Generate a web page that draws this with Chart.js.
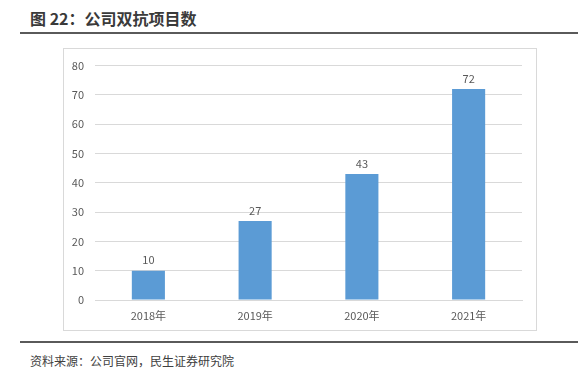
<!DOCTYPE html>
<html><head><meta charset="utf-8">
<script src="https://cdn.jsdelivr.net/npm/chart.js@4"></script>
<style>
html,body{margin:0;padding:0;background:#fff;width:578px;height:374px;overflow:hidden;font-family:"Noto Sans CJK SC","Noto Sans",sans-serif;}
#title{position:absolute;left:30px;top:6px;font-size:16px;font-weight:bold;color:#3a3a3a;white-space:nowrap;}
#tline{position:absolute;left:20px;top:32px;width:558px;height:2px;background:#5a5a5a;}
#box{position:absolute;left:63px;top:48px;width:472px;height:281px;border:1px solid #d9d9d9;}
#wrap{position:absolute;left:63px;top:48px;width:474px;height:283px;}
#fline{position:absolute;left:20px;top:341px;width:558px;height:2px;background:#5a5a5a;}
#foot{position:absolute;left:30px;top:352px;font-size:12px;color:#404040;white-space:nowrap;}
</style></head><body>
<div id="title">图 22：公司双抗项目数</div>
<div id="tline"></div>
<div id="box"></div>
<div id="wrap"><canvas id="c" width="474" height="283"></canvas></div>
<div id="fline"></div>
<div id="foot">资料来源：公司官网，民生证券研究院</div>
<script>
const categories = ["2018年","2019年","2020年","2021年"];
const projectCounts = [10, 27, 43, 72];
const yTicks = [0,10,20,30,40,50,60,70,80];

const labelPlugin = {
  id:'barLabels',
  afterDatasetsDraw(chart){
    const ctx = chart.ctx;
    const meta = chart.getDatasetMeta(0);
    ctx.save();
    ctx.font = '11px "Noto Sans CJK SC", "Noto Sans", sans-serif';
    ctx.fillStyle = '#595959';
    ctx.textAlign = 'center';
    ctx.textBaseline = 'bottom';
    meta.data.forEach((bar,i)=>{
      ctx.fillText(String(projectCounts[i]), bar.x, bar.y - 5);
    });
    ctx.restore();
  }
};

new Chart(document.getElementById('c'), {
  type:'bar',
  data:{labels:categories, datasets:[{data:projectCounts, backgroundColor:'#5B9BD5', borderWidth:0, categoryPercentage:1, barPercentage:0.31}]},
  options:{
    responsive:false, animation:false,
    layout:{padding:{top:15,right:15,left:0,bottom:0}},
    plugins:{legend:{display:false}, tooltip:{enabled:false}},
    scales:{
      x:{
        grid:{display:false, drawTicks:false},
        border:{display:true, color:'#d9d9d9'},
        ticks:{color:'#595959', font:{size:11, family:'"Noto Sans CJK SC", "Noto Sans", sans-serif'}, padding:9},
        afterFit(s){ s.height = 31; }
      },
      y:{
        min:0, max:80,
        afterBuildTicks(s){ s.ticks = yTicks.map(v=>({value:v})); },
        grid:{color:'#d9d9d9', drawTicks:false},
        border:{display:false},
        ticks:{color:'#595959', font:{size:11, family:'"Noto Sans CJK SC", "Noto Sans", sans-serif'}, padding:11},
        afterFit(s){ s.width = 32; }
      }
    }
  },
  plugins:[labelPlugin]
});
</script>
</body></html>
